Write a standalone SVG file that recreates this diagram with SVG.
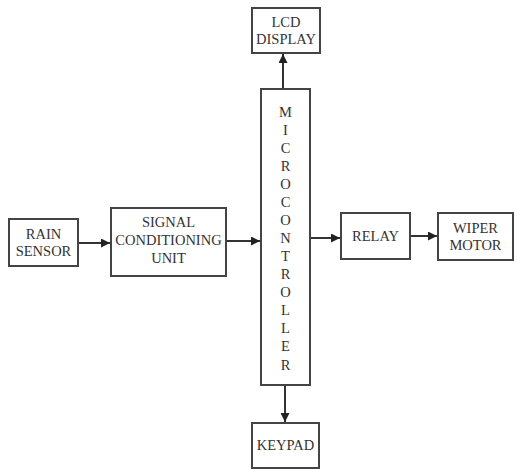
<svg xmlns="http://www.w3.org/2000/svg" width="517" height="470" viewBox="0 0 517 470" font-family="'Liberation Serif',serif">
<defs>
<marker id="ah" viewBox="0 0 10 10" refX="10" refY="5" markerWidth="9" markerHeight="9" markerUnits="userSpaceOnUse" orient="auto">
<path d="M0,0 L10,5 L0,10 z" fill="#222"/>
</marker>
</defs>
<style>
.box{fill:#fff;stroke:#444;stroke-width:2}
.t{font-size:14.5px;fill:#333;text-anchor:middle}
.c{stroke:#333;stroke-width:2;fill:none;marker-end:url(#ah)}
</style>
<rect width="517" height="470" fill="#fff"/>
<g id="connectors">
<line class="c" x1="78" y1="243" x2="110" y2="243"/>
<line class="c" x1="226" y1="241" x2="260" y2="241"/>
<line class="c" x1="283" y1="89" x2="283" y2="54"/>
<line class="c" x1="285" y1="385" x2="285" y2="422"/>
<line class="c" x1="310" y1="238" x2="340" y2="238"/>
<line class="c" x1="410" y1="236" x2="437" y2="236"/>
</g>
<g id="rain">
<rect class="box" x="9" y="219" width="69" height="47"/>
<text class="t" x="43.5" y="239">RAIN</text>
<text class="t" x="43.5" y="256">SENSOR</text>
</g>
<g id="signal">
<rect class="box" x="111" y="208" width="115" height="68"/>
<text class="t" x="168.5" y="227">SIGNAL</text>
<text class="t" x="168.5" y="245">CONDITIONING</text>
<text class="t" x="168.5" y="263">UNIT</text>
</g>
<g id="lcd">
<rect class="box" x="252" y="8" width="68" height="45"/>
<text class="t" x="286" y="27">LCD</text>
<text class="t" x="286" y="44">DISPLAY</text>
</g>
<g id="micro">
<rect class="box" x="261" y="89" width="49" height="296"/>
<text class="t" x="285.5" y="117">M</text>
<text class="t" x="285.5" y="135">I</text>
<text class="t" x="285.5" y="153">C</text>
<text class="t" x="285.5" y="171">R</text>
<text class="t" x="285.5" y="189">O</text>
<text class="t" x="285.5" y="207">C</text>
<text class="t" x="285.5" y="225">O</text>
<text class="t" x="285.5" y="243">N</text>
<text class="t" x="285.5" y="261">T</text>
<text class="t" x="285.5" y="279">R</text>
<text class="t" x="285.5" y="297">O</text>
<text class="t" x="285.5" y="315">L</text>
<text class="t" x="285.5" y="333">L</text>
<text class="t" x="285.5" y="351">E</text>
<text class="t" x="285.5" y="370">R</text>
</g>
<g id="keypad">
<rect class="box" x="252" y="423" width="67" height="45"/>
<text class="t" x="285.5" y="450">KEYPAD</text>
</g>
<g id="relay">
<rect class="box" x="341" y="213" width="69" height="46"/>
<text class="t" x="375.5" y="241">RELAY</text>
</g>
<g id="wiper">
<rect class="box" x="438" y="213" width="75" height="47"/>
<text class="t" x="475.5" y="233">WIPER</text>
<text class="t" x="475.5" y="250">MOTOR</text>
</g>
</svg>
